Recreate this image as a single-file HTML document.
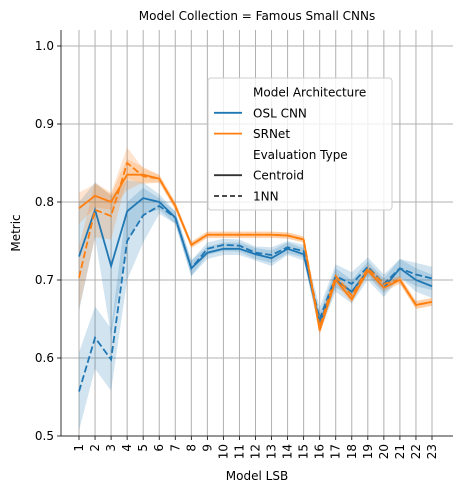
<!DOCTYPE html>
<html><head><meta charset="utf-8"><style>
body{margin:0;background:#fff;font-family:"Liberation Sans","DejaVu Sans",sans-serif}
svg text{font-family:"DejaVu Sans","Liberation Sans",sans-serif;fill:#000}
</style></head><body>
<svg id="chart" width="462" height="493" viewBox="0 0 462 493" xmlns="http://www.w3.org/2000/svg"></svg>
<script>
const categories=["1","2","3","4","5","6","7","8","9","10","11","12","13","14","15","16","17","18","19","20","21","22","23"];
const yTicks=[0.5,0.6,0.7,0.8,0.9,1.0];
const yTickLabels=["0.5","0.6","0.7","0.8","0.9","1.0"];
const oslCentroid=[0.73,0.79,0.718,0.788,0.805,0.80,0.78,0.715,0.735,0.74,0.74,0.733,0.728,0.74,0.733,0.645,0.70,0.685,0.712,0.69,0.715,0.70,0.692];
const oslCentroidCI=[0.07,0.035,0.09,0.04,0.02,0.01,0.008,0.01,0.008,0.008,0.008,0.008,0.01,0.008,0.008,0.012,0.015,0.015,0.012,0.012,0.012,0.015,0.015];
const osl1NN=[0.557,0.626,0.598,0.75,0.783,0.795,0.78,0.715,0.74,0.745,0.744,0.735,0.732,0.742,0.737,0.65,0.705,0.695,0.717,0.695,0.715,0.707,0.702];
const osl1NNCI=[0.05,0.04,0.04,0.05,0.035,0.01,0.008,0.01,0.008,0.008,0.008,0.008,0.01,0.008,0.008,0.015,0.015,0.015,0.012,0.012,0.012,0.015,0.015];
const srCentroid=[0.792,0.808,0.80,0.835,0.835,0.83,0.795,0.745,0.758,0.758,0.758,0.758,0.758,0.757,0.752,0.635,0.70,0.675,0.712,0.69,0.70,0.668,0.672];
const srCentroidCI=[0.02,0.015,0.01,0.02,0.01,0.005,0.005,0.004,0.004,0.004,0.004,0.004,0.004,0.004,0.004,0.006,0.005,0.005,0.005,0.005,0.005,0.005,0.005];
const sr1NN=[0.703,0.79,0.782,0.85,0.833,0.83,0.795,0.745,0.758,0.758,0.758,0.758,0.758,0.757,0.752,0.64,0.705,0.68,0.715,0.695,0.70,0.668,0.672];
const sr1NNCI=[0.04,0.035,0.03,0.02,0.01,0.005,0.005,0.004,0.004,0.004,0.004,0.004,0.004,0.004,0.004,0.006,0.005,0.005,0.005,0.005,0.005,0.005,0.005];

const NS="http://www.w3.org/2000/svg";
const svg=document.getElementById('chart');
const L=61,R=453,T=30,B=436;
const x=i=>79+i*(432-79)/(categories.length-1);
const y=v=>436-(v-0.5)*780;
function mk(tag,attrs,parent){const e=document.createElementNS(NS,tag);for(const k in attrs)e.setAttribute(k,attrs[k]);(parent||svg).appendChild(e);return e;}

categories.forEach((c,i)=>{
  const g=mk('line',{x1:x(i),x2:x(i),y1:T,y2:B,stroke:'#b0b0b0','stroke-width':1});
  
  
  const t=mk('line',{x1:x(i),x2:x(i),y1:B,y2:B+4,stroke:'#000','stroke-width':0.8});
  
  
  const lb=mk('text',{x:0,y:0,'font-size':12,'text-anchor':'end','dominant-baseline':'central',transform:`translate(${x(i)},${B+8}) rotate(-90)`});
  lb.textContent=c;
  
  
});
yTicks.forEach((v,i)=>{
  const g=mk('line',{x1:L,x2:R,y1:y(v),y2:y(v),stroke:'#b0b0b0','stroke-width':1});
  
  
  const t=mk('line',{x1:L-4,x2:L,y1:y(v),y2:y(v),stroke:'#000','stroke-width':0.8});
  
  
  const lb=mk('text',{x:L-7,y:y(v)+4,'font-size':12,'text-anchor':'end'});
  lb.textContent=yTickLabels[i];
  
  
});

function band(vals,ci,color,name){
  let d='';
  vals.forEach((v,i)=>{d+=(i?'L':'M')+x(i)+','+y(v+ci[i]);});
  for(let i=vals.length-1;i>=0;i--)d+='L'+x(i)+','+y(vals[i]-ci[i]);
  const p=mk('path',{d:d+'Z',fill:color,'fill-opacity':0.2,stroke:'none'});
  
  
}
function line(vals,color,dash,name){
  const d=vals.map((v,i)=>(i?'L':'M')+x(i)+','+y(v)).join('');
  const p=mk('path',{d:d,fill:'none',stroke:color,'stroke-width':1.8,'stroke-dasharray':dash||'none'});
  
  
}
const BL='#1f77b4',OR='#ff7f0e';
band(oslCentroid,oslCentroidCI,BL,'osl-centroid-band');
band(osl1NN,osl1NNCI,BL,'osl-1nn-band');
band(srCentroid,srCentroidCI,OR,'srnet-centroid-band');
band(sr1NN,sr1NNCI,OR,'srnet-1nn-band');
line(oslCentroid,BL,null,'osl-centroid-line');
line(osl1NN,BL,'7,3','osl-1nn-line');
line(srCentroid,OR,null,'srnet-centroid-line');
line(sr1NN,OR,'7,3','srnet-1nn-line');

let s=mk('line',{x1:L,x2:L,y1:T,y2:B,stroke:'#000','stroke-width':0.8});

s=mk('line',{x1:L,x2:R,y1:B,y2:B,stroke:'#000','stroke-width':0.8});


let t=mk('text',{x:257,y:20,'font-size':12,'text-anchor':'middle'});t.textContent='Model Collection = Famous Small CNNs';

t=mk('text',{x:257,y:480,'font-size':12,'text-anchor':'middle'});t.textContent='Model LSB';

t=mk('text',{x:0,y:0,'font-size':12,'text-anchor':'middle',transform:'translate(20,233) rotate(-90)'});t.textContent='Metric';


const lg=mk('g',{});

mk('rect',{x:208,y:78,width:184,height:132,rx:3,fill:'#fff','fill-opacity':0.8,stroke:'#ccc'},lg);
const entries=[['Model Architecture',null,null,'legend-title-architecture'],['OSL CNN',BL,null,'legend-entry-osl-cnn'],['SRNet',OR,null,'legend-entry-srnet'],['Evaluation Type',null,null,'legend-title-evaluation'],['Centroid','#333',null,'legend-entry-centroid'],['1NN','#333','5,3','legend-entry-1nn']];
entries.forEach((e,i)=>{
  const yy=92+i*20.8;
  const g=mk('g',{},lg);
  
  
  if(e[1])mk('line',{x1:214,x2:242,y1:yy,y2:yy,stroke:e[1],'stroke-width':1.8,'stroke-dasharray':e[2]||'none'},g);
  const tx=mk('text',{x:253,y:yy+4.5,'font-size':12},g);tx.textContent=e[0];
});
</script>
</body></html>
